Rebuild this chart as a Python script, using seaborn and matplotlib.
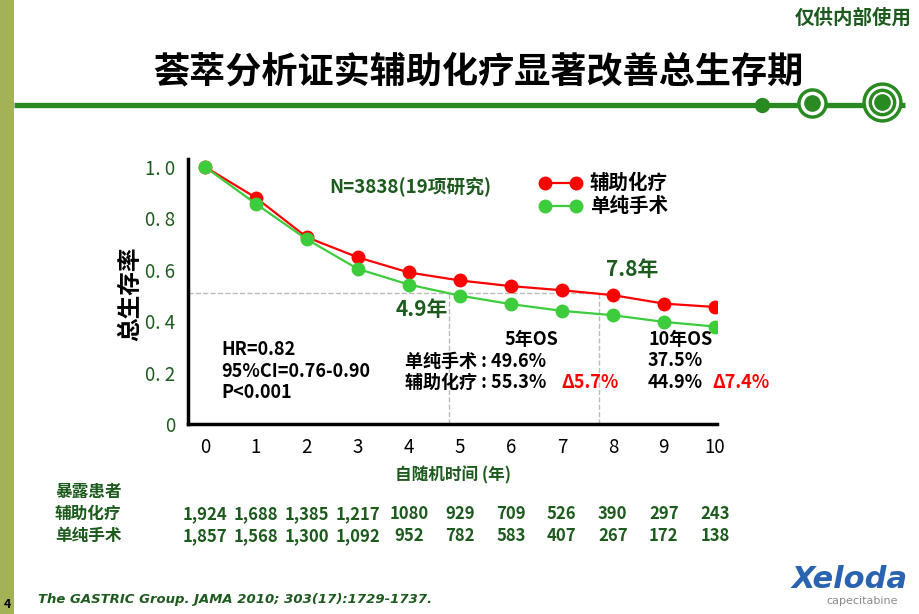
import numpy as np
import pandas as pd
import matplotlib
matplotlib.use('Agg')
import matplotlib.pyplot as plt
import seaborn as sns
from matplotlib.transforms import blended_transform_factory

# ── Datos ──────────────────────────────────────────────────────────────
anios = [0, 1, 2, 3, 4, 5, 6, 7, 8, 9, 10]
quimio = [1.00, 0.88, 0.726, 0.648, 0.589, 0.558, 0.536, 0.520, 0.501, 0.468, 0.455]
cirugia = [1.00, 0.856, 0.718, 0.603, 0.542, 0.499, 0.466, 0.440, 0.423, 0.397, 0.379]
series = ['辅助化疗', '单纯手术']
n_quimio = ['1,924', '1,688', '1,385', '1,217', '1080', '929', '709', '526', '390', '297', '243']
n_cirugia = ['1,857', '1,568', '1,300', '1,092', '952', '782', '583', '407', '267', '172', '138']
mediana_y = 0.511
medianas = [4.78, 7.72]
yticks = [0, 0.2, 0.4, 0.6, 0.8, 1.0]
ytick_labels = ['0', '0. 2', '0. 4', '0. 6', '0. 8', '1. 0']

df = pd.DataFrame({
    'anio': anios * 2,
    'sobrevida': quimio + cirugia,
    'grupo': [series[0]] * len(anios) + [series[1]] * len(anios),
})

sns.set_theme(style='white')
plt.rcParams['font.family'] = ['Noto Sans CJK SC', 'DejaVu Sans']
plt.rcParams['axes.unicode_minus'] = False

VERDE_OSC = '#1d5a1d'
ROJO = '#ff0000'
VERDE = '#3ccc3c'

fig = plt.figure(figsize=(9.2, 6.14), dpi=100)
fig.patch.set_facecolor('white')

# capa de fondo en coordenadas de píxel
bg = fig.add_axes([0, 0, 1, 1], zorder=0)
bg.set_xlim(0, 920)
bg.set_ylim(614, 0)
bg.axis('off')
bg.add_patch(plt.Rectangle((0, 0), 14, 614, color='#a3b157', lw=0))
bg.plot([14, 905], [105, 105], color='#2a8a22', lw=3.8, solid_capstyle='butt')
bg.plot(762, 105, 'o', ms=10, color='#2a8a22')
bg.plot(812, 103, 'o', ms=21, color='#2a8a22')
bg.plot(812, 103, 'o', ms=16, color='white')
bg.plot(812, 103, 'o', ms=11, color='#2a8a22')
bg.plot(882, 102, 'o', ms=28, color='#2a8a22')
bg.plot(882, 102, 'o', ms=23, color='white')
bg.plot(882, 102, 'o', ms=19, color='#2a8a22')
bg.plot(882, 102, 'o', ms=14, color='white')
bg.plot(882, 102, 'o', ms=11, color='#2a8a22')

bg.text(912, 18, '仅供内部使用', ha='right', va='center', fontsize=14,
        color=VERDE_OSC, fontweight='bold')
bg.text(478, 72, '荟萃分析证实辅助化疗显著改善总生存期', ha='center', va='center',
        fontsize=26, fontweight='bold', color='black')
bg.text(130, 294, '总生存率', rotation=90, ha='center', va='center',
        fontsize=17, fontweight='bold', color='black')
bg.text(55, 492, '暴露患者', ha='left', va='center', fontsize=12,
        fontweight='bold', color=VERDE_OSC)
bg.text(55, 514, series[0], ha='left', va='center', fontsize=12,
        fontweight='bold', color=VERDE_OSC)
bg.text(55, 536, series[1], ha='left', va='center', fontsize=12,
        fontweight='bold', color=VERDE_OSC)
bg.text(38, 600, 'The GASTRIC Group. JAMA 2010; 303(17):1729-1737.', ha='left',
        va='center', fontsize=9.5, fontstyle='italic', fontweight='bold',
        color=VERDE_OSC, family=['DejaVu Sans'])
bg.text(4, 604, '4', ha='left', va='center', fontsize=9, fontweight='bold',
        color='black')
bg.text(850, 580, 'Xeloda', ha='center', va='center', fontsize=22,
        fontweight='bold', fontstyle='italic', color='#2a63b0',
        family=['DejaVu Sans'])
bg.text(862, 601, 'capecitabine', ha='center', va='center', fontsize=8,
        color='#8a8a8a', family=['DejaVu Sans'])

# ── Gráfica principal ──────────────────────────────────────────────────
ax = fig.add_axes([0.2043, 0.3094, 0.5755, 0.4316], zorder=2)
ax.patch.set_alpha(0)
sns.lineplot(data=df, x='anio', y='sobrevida', hue='grupo', hue_order=series,
             palette=[ROJO, VERDE], marker='o', markersize=10,
             markeredgewidth=0, linewidth=1.6, ax=ax)

ax.set_xlim(-0.33, 10.05)
ax.set_ylim(0, 1.03)
ax.set_xticks(anios)
ax.set_xticklabels([str(a) for a in anios])
ax.set_yticks(yticks)
ax.set_yticklabels(ytick_labels)
ax.tick_params(axis='both', direction='out', length=5, width=1.5,
               colors='black', labelsize=13.5, pad=4)
for lbl in ax.get_yticklabels():
    lbl.set_color(VERDE_OSC)
for lbl in ax.get_xticklabels():
    lbl.set_color('black')
for s in ['top', 'right']:
    ax.spines[s].set_visible(False)
for s in ['left', 'bottom']:
    ax.spines[s].set_linewidth(2.5)
    ax.spines[s].set_color('black')
ax.set_xlabel('自随机时间 (年)', fontsize=12, fontweight='bold',
              color=VERDE_OSC, labelpad=6)
ax.set_ylabel('')

# líneas de mediana
ax.plot([-0.33, medianas[1]], [mediana_y, mediana_y], ls='--', color='#bbbbbb',
        lw=1, zorder=1)
for m in medianas:
    ax.plot([m, m], [0, mediana_y], ls='--', color='#bbbbbb', lw=1, zorder=1)

leg = ax.legend(loc='upper left', bbox_to_anchor=(0.63, 1.01), frameon=False,
                numpoints=2, handlelength=2.2, fontsize=14, labelspacing=0.2,
                handletextpad=0.4)
for t in leg.get_texts():
    t.set_fontweight('bold')
    t.set_color('black')

ax.text(4.02, 0.924, 'N=3838(19项研究)', ha='center', va='center',
        fontsize=13.5, fontweight='bold', color=VERDE_OSC)
ax.text(8.37, 0.6, '7.8年', ha='center', va='center', fontsize=15,
        fontweight='bold', color=VERDE_OSC)
ax.text(4.25, 0.446, '4.9年', ha='center', va='center', fontsize=15,
        fontweight='bold', color=VERDE_OSC)

for y, txt in zip([0.291, 0.206, 0.121], ['HR=0.82', '95%CI=0.76-0.90', 'P<0.001']):
    ax.text(0.33, y, txt, ha='left', va='center', fontsize=13,
            fontweight='bold', color='black')

ax.text(6.41, 0.33, '5年OS', ha='center', va='center', fontsize=13,
        fontweight='bold', color='black')
ax.text(3.92, 0.245, '单纯手术 : 49.6%', ha='left', va='center', fontsize=13,
        fontweight='bold', color='black')
ax.text(3.92, 0.16, '辅助化疗 : 55.3%', ha='left', va='center', fontsize=13,
        fontweight='bold', color='black')
ax.text(7.0, 0.16, 'Δ5.7%', ha='left', va='center', fontsize=13,
        fontweight='bold', color=ROJO)
ax.text(8.69, 0.33, '10年OS', ha='left', va='center', fontsize=13,
        fontweight='bold', color='black')
ax.text(8.69, 0.245, '37.5%', ha='left', va='center', fontsize=13,
        fontweight='bold', color='black')
ax.text(8.69, 0.16, '44.9%', ha='left', va='center', fontsize=13,
        fontweight='bold', color='black')
ax.text(9.96, 0.16, 'Δ7.4%', ha='left', va='center', fontsize=13,
        fontweight='bold', color=ROJO, clip_on=False)

# tabla de pacientes en riesgo
trans = blended_transform_factory(ax.transData, fig.transFigure)
for x, a, b in zip(anios, n_quimio, n_cirugia):
    ax.text(x, 1 - 514 / 614, a, transform=trans, ha='center', va='center',
            fontsize=12, fontweight='bold', color=VERDE_OSC)
    ax.text(x, 1 - 536 / 614, b, transform=trans, ha='center', va='center',
            fontsize=12, fontweight='bold', color=VERDE_OSC)

fig.savefig('out.png', dpi=100)
